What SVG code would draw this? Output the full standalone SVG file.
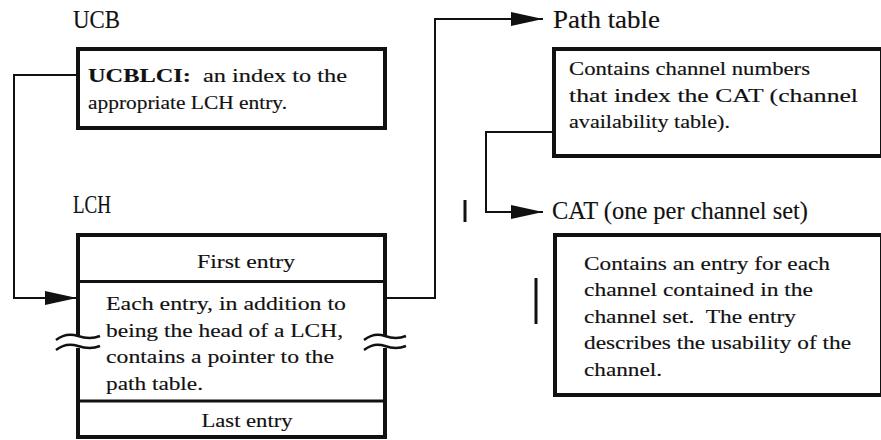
<svg xmlns="http://www.w3.org/2000/svg" width="881" height="440" viewBox="0 0 881 440">
<style>
text{font-family:"Liberation Serif","DejaVu Serif",serif;fill:#111;white-space:pre;stroke:#111;stroke-width:0.15px}
.lbl{font-size:25px}
.body{font-size:19.5px}
.box{fill:#fff;stroke:#111;stroke-width:4}
.div{stroke:#111;stroke-width:3;fill:none}
.conn{stroke:#111;stroke-width:2;fill:none}
.bar{stroke:#111;stroke-width:3}
.wave{stroke:#111;stroke-width:2.5;fill:none}
</style>
<defs>
<marker id="arr" viewBox="0 0 32 14" refX="32" refY="7" markerWidth="32" markerHeight="14" markerUnits="userSpaceOnUse" orient="auto">
<path d="M0 0 L32 7 L0 14 Z" fill="#111"/>
</marker>
</defs>
<rect width="881" height="440" fill="#fff"/>

<g id="ucb">
<text class="lbl" x="73" y="28" textLength="47" lengthAdjust="spacingAndGlyphs">UCB</text>
<rect class="box" x="78" y="49" width="307" height="79"/>
<text class="body" x="88" y="82" textLength="259" lengthAdjust="spacingAndGlyphs"><tspan font-weight="bold">UCBLCI:</tspan>  an index to the</text>
<text class="body" x="88" y="109" textLength="199" lengthAdjust="spacingAndGlyphs">appropriate LCH entry.</text>
</g>

<g id="lch">
<text class="lbl" x="73" y="213" textLength="38" lengthAdjust="spacingAndGlyphs">LCH</text>
<path class="box" d="M78 336 V235 H385 V336 M385 348 V437 H78 V348"/>
<line class="div" x1="78" y1="281.5" x2="385" y2="281.5"/>
<line class="div" x1="78" y1="401" x2="385" y2="401"/>
<text class="body" x="246" y="268" text-anchor="middle" textLength="98" lengthAdjust="spacingAndGlyphs">First entry</text>
<text class="body" x="106" y="310" textLength="240" lengthAdjust="spacingAndGlyphs">Each entry, in addition to</text>
<text class="body" x="106" y="337" textLength="237" lengthAdjust="spacingAndGlyphs">being the head of a LCH,</text>
<text class="body" x="106" y="363" textLength="228" lengthAdjust="spacingAndGlyphs">contains a pointer to the</text>
<text class="body" x="106" y="390" textLength="97" lengthAdjust="spacingAndGlyphs">path table.</text>
<text class="body" x="247" y="427" text-anchor="middle" textLength="91" lengthAdjust="spacingAndGlyphs">Last entry</text>
<path class="wave" d="M56 340 Q66 332 78 336 Q90 340 100 336"/>
<path class="wave" d="M56 350 Q66 342 78 346 Q90 350 100 346"/>
<path class="wave" d="M364 340 Q374 332 385 336 Q396 340 406 336"/>
<path class="wave" d="M364 350 Q374 342 385 346 Q396 350 406 346"/>
</g>

<g id="path-table">
<text class="lbl" x="553" y="28" textLength="107" lengthAdjust="spacingAndGlyphs">Path table</text>
<rect class="box" x="554" y="49" width="328" height="107"/>
<text class="body" x="569" y="75" textLength="241" lengthAdjust="spacingAndGlyphs">Contains channel numbers</text>
<text class="body" x="569" y="102" textLength="289" lengthAdjust="spacingAndGlyphs">that index the CAT (channel</text>
<text class="body" x="569" y="128" textLength="161" lengthAdjust="spacingAndGlyphs">availability table).</text>
</g>

<g id="cat">
<text class="lbl" x="552" y="219" textLength="256" lengthAdjust="spacingAndGlyphs">CAT (one per channel set)</text>
<rect class="box" x="555" y="235" width="327" height="160"/>
<text class="body" x="584" y="270" textLength="246" lengthAdjust="spacingAndGlyphs">Contains an entry for each</text>
<text class="body" x="584" y="296" textLength="229" lengthAdjust="spacingAndGlyphs">channel contained in the</text>
<text class="body" x="584" y="323" textLength="212" lengthAdjust="spacingAndGlyphs">channel set.  The entry</text>
<text class="body" x="584" y="349" textLength="267" lengthAdjust="spacingAndGlyphs">describes the usability of the</text>
<text class="body" x="584" y="376" textLength="78" lengthAdjust="spacingAndGlyphs">channel.</text>
</g>

<g id="change-bars">
<line class="bar" x1="465" y1="200" x2="465" y2="222"/>
<line class="bar" x1="536" y1="278" x2="536" y2="324"/>
</g>

<g id="connectors">
<path class="conn" d="M76 75 H14 V298 H77" marker-end="url(#arr)"/>
<path class="conn" d="M387 298 H435 V19 H543" marker-end="url(#arr)"/>
<path class="conn" d="M552 132 H486 V212 H543" marker-end="url(#arr)"/>
</g>
</svg>
